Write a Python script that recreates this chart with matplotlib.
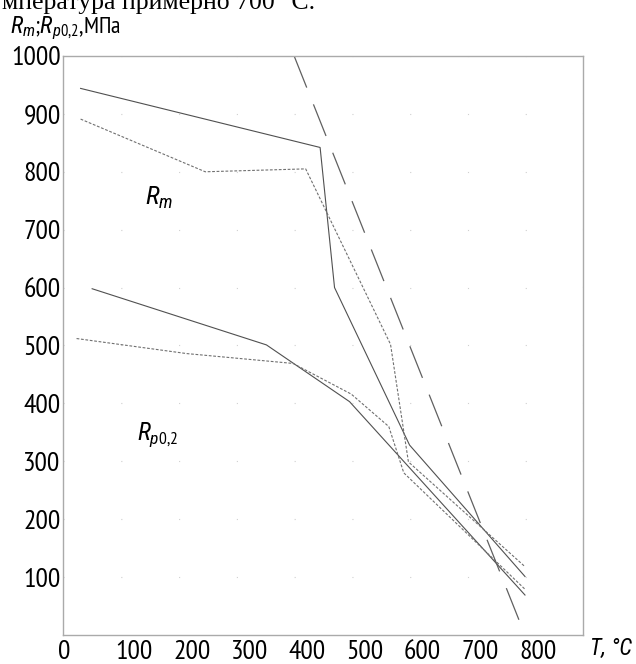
import matplotlib
matplotlib.use("Agg")
import matplotlib.pyplot as plt
import matplotlib.transforms as mtransforms
from matplotlib import font_manager as fm

# узкий шрифт, похожий на чертёжный; если нет - запасные
names = {f.name for f in fm.fontManager.ttflist}
narrow = [n for n in ['PT Sans Narrow', 'Roboto Condensed'] if n in names] + ['DejaVu Sans']
italic = [n for n in ['Roboto Condensed'] if n in names] + ['DejaVu Sans']
plt.rcParams['font.family'] = narrow
plt.rcParams['mathtext.fontset'] = 'custom'
plt.rcParams['mathtext.rm'] = narrow[0]
plt.rcParams['mathtext.it'] = italic[0] + ':italic'
plt.rcParams['lines.scale_dashes'] = False

# данные (T, °C ; МПа)
rm_solid_t = [30, 445, 470, 600, 800]
rm_solid = [944, 842, 600, 328, 101]

rm_dot_t = [30, 246, 420, 567, 598, 800]
rm_dot = [891, 800, 805, 502, 299, 118]

rp_solid_t = [50, 352, 496, 800]
rp_solid = [598, 501, 403, 69]

rp_dot_t = [23, 214, 398, 499, 564, 590, 800]
rp_dot = [512, 486, 469, 416, 360, 280, 79]

dash_t = [400, 800]
dash = [1000, 0]

x_ticks = [0, 100, 200, 300, 400, 500, 600, 700, 800]
y_ticks = [100, 200, 300, 400, 500, 600, 700, 800, 900, 1000]

fig = plt.figure(figsize=(6.36, 6.64), dpi=100)
ax = fig.add_axes([0.0995, 0.0437, 0.8167, 0.872])

ax.plot(rm_solid_t, rm_solid, color='#505050', lw=0.8)
ax.plot(rm_dot_t, rm_dot, color='#707070', lw=0.8, linestyle=(0, (2, 1.2)))
ax.plot(rp_solid_t, rp_solid, color='#505050', lw=0.8)
ax.plot(rp_dot_t, rp_dot, color='#707070', lw=0.8, linestyle=(0, (2, 1.2)))
ax.plot(dash_t, dash, color='#606060', lw=0.9, linestyle=(0, (24.5, 13)))

ax.set_xlim(0, 900)
ax.set_ylim(0, 1000)

# сетка точками в узлах
ax.set_xticks(x_ticks[1:] + [900], minor=True)
ax.grid(True, which='minor', axis='x', color='#d0d0d0', lw=0.8, linestyle=(0, (0.8, 40.9)))
ax.grid(True, which='major', axis='y', color='#d0d0d0', lw=0.8, linestyle=(0, (0.8, 40.8)))

ax.set_xticks(x_ticks)
ax.set_xticklabels([str(v) for v in x_ticks], ha='left')
ax.set_yticks(y_ticks)
ax.set_yticklabels([str(v) for v in y_ticks])
ax.tick_params(axis='both', which='both', length=0, labelsize=20, colors='black')
ax.tick_params(axis='x', pad=3.5)
ax.tick_params(axis='y', pad=2)
offset = mtransforms.ScaledTranslation(-4 / 72, 0, fig.dpi_scale_trans)
for lab in ax.get_xticklabels():
    lab.set_transform(lab.get_transform() + offset)

for sp in ax.spines.values():
    sp.set_color('#aaaaaa')
    sp.set_linewidth(1.0)

ax.text(141, 743, r'$R_m$', fontsize=19, va='baseline', ha='left')
ax.text(128, 337, r'$R_{p0{,}2}$', fontsize=18, va='baseline', ha='left')

fig.text(0.0157, 0.95, r'$R_m$;$R_{p0{,}2}$,МПа', fontsize=17, va='baseline', ha='left')
ax.set_xlabel('T, °C', fontsize=16.5, family=italic, style='italic', va='center', ha='center')
ax.xaxis.set_label_coords(1.055, -0.0225)

fig.text(0.003, 0.9865, 'мпература примерно 700 °С.', fontsize=18.5,
         family='Liberation Serif', va='baseline', ha='left')

fig.savefig('out.png', dpi=100)
